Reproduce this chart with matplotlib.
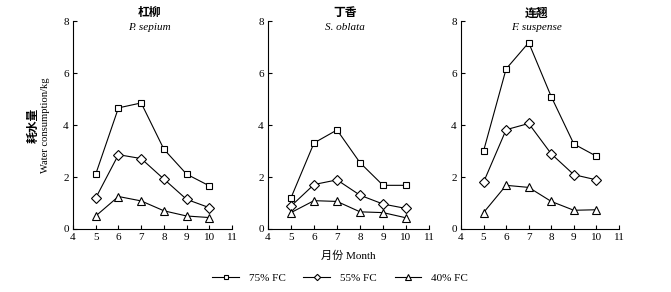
import numpy as np
import matplotlib
matplotlib.use("Agg")
import matplotlib.pyplot as plt

plt.rcParams['font.family'] = ['Liberation Serif', 'Noto Sans CJK SC']
plt.rcParams['font.size'] = 8

# months
months = [5, 6, 7, 8, 9, 10]

# titles
titles_cn = ['杠柳', '丁香', '连翘']
titles_la = ['P. sepium', 'S. oblata', 'F. suspense']

# water consumption (kg) per species, per treatment
sepium_75 = [2.11, 4.66, 4.85, 3.07, 2.11, 1.66]
sepium_55 = [1.19, 2.86, 2.71, 1.92, 1.14, 0.82]
sepium_40 = [0.50, 1.25, 1.08, 0.70, 0.50, 0.44]

oblata_75 = [1.20, 3.31, 3.81, 2.55, 1.68, 1.68]
oblata_55 = [0.88, 1.71, 1.89, 1.30, 0.96, 0.79]
oblata_40 = [0.63, 1.09, 1.06, 0.66, 0.63, 0.43]

suspense_75 = [3.00, 6.16, 7.17, 5.09, 3.27, 2.80]
suspense_55 = [1.80, 3.82, 4.06, 2.89, 2.09, 1.89]
suspense_40 = [0.63, 1.68, 1.60, 1.06, 0.72, 0.74]

labels = ['75% FC', '55% FC', '40% FC']
markers = ['s', 'D', '^']
msizes = [5, 4.6, 5.4]

panels = [
    [sepium_75, sepium_55, sepium_40],
    [oblata_75, oblata_55, oblata_40],
    [suspense_75, suspense_55, suspense_40],
]

fig = plt.figure(figsize=(6.71, 2.92), dpi=100)

lefts = [0.1088, 0.3994, 0.687]
widths = [0.237, 0.240, 0.2355]

handles = []
for i, series in enumerate(panels):
    ax = fig.add_axes([lefts[i], 0.2158, widths[i], 0.712])
    for j, vals in enumerate(series):
        h, = ax.plot(months, vals, color='black', lw=0.8, marker=markers[j],
                     ms=msizes[j], mfc='white', mec='black', mew=0.8,
                     label=labels[j])
        if i == 0:
            handles.append(h)
    ax.set_xlim(4, 11)
    ax.set_ylim(0, 8)
    ax.set_xticks(range(4, 12))
    ax.set_yticks([0, 2, 4, 6, 8])
    ax.spines['top'].set_visible(False)
    ax.spines['right'].set_visible(False)
    ax.spines['left'].set_linewidth(0.8)
    ax.spines['bottom'].set_linewidth(0.8)
    ax.tick_params(direction='in', length=3, width=0.8, labelsize=8, pad=3)
    ax.text(0.48, 1.04, titles_cn[i], transform=ax.transAxes, ha='center',
            va='center', fontsize=8.5, fontweight='bold',
            family=['Noto Sans CJK SC'])
    ax.text(0.48, 0.97, titles_la[i], transform=ax.transAxes, ha='center',
            va='center', fontsize=8, style='italic')

fig.text(0.049, 0.57, '耗水量', rotation=90, ha='center', va='center',
         fontsize=8.5, fontweight='bold', family=['Noto Sans CJK SC'])
fig.text(0.068, 0.57, 'Water consumption/kg', rotation=90, ha='center',
         va='center', fontsize=7.6)
fig.text(0.519, 0.125, '月份 Month', ha='center', va='center', fontsize=8)

fig.legend(handles=handles, labels=labels, loc='center',
           bbox_to_anchor=(0.507, 0.048), ncol=3, frameon=False, fontsize=8,
           handlelength=2.4, columnspacing=1.6, handletextpad=0.9,
           markerscale=0.7)

fig.savefig('out.png', dpi=100)
